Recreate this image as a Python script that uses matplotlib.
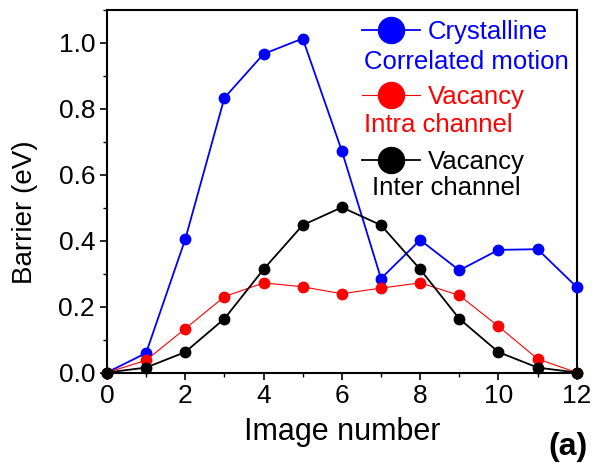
import numpy as np
import matplotlib.pyplot as plt
from matplotlib.ticker import MultipleLocator

plt.rcParams['font.family'] = ['Liberation Sans', 'DejaVu Sans']

# image numbers along the NEB path
images = np.arange(0, 13)

# barrier values (eV)
crystalline = [0.0, 0.059, 0.404, 0.833, 0.966, 1.013, 0.672, 0.285, 0.402, 0.310, 0.372, 0.374, 0.259]
vac_intra = [0.0, 0.037, 0.133, 0.230, 0.272, 0.260, 0.239, 0.256, 0.272, 0.234, 0.140, 0.041, 0.0]
vac_inter = [0.0, 0.015, 0.062, 0.163, 0.313, 0.447, 0.501, 0.447, 0.313, 0.163, 0.062, 0.015, 0.0]

fig = plt.figure(figsize=(5.94, 4.68), dpi=100)
ax = fig.add_axes([0.180, 0.204, 0.791, 0.775])

l1, = ax.plot(images, crystalline, '-o', color='#0000ff', lw=1.3, ms=7.5, clip_on=False, zorder=3)
l2, = ax.plot(images, vac_intra, '-o', color='#ff0000', lw=0.8, ms=7.5, clip_on=False, zorder=3)
l3, = ax.plot(images, vac_inter, '-o', color='black', lw=1.3, ms=7.5, clip_on=False, zorder=3)

ax.set_xlim(0, 12)
ax.set_ylim(0, 1.1)
ax.xaxis.set_major_locator(MultipleLocator(2))
ax.xaxis.set_minor_locator(MultipleLocator(1))
ax.yaxis.set_major_locator(MultipleLocator(0.2))
ax.yaxis.set_minor_locator(MultipleLocator(0.1))
ax.yaxis.set_major_formatter(plt.FormatStrFormatter('%.1f'))
ax.tick_params(which='major', direction='out', length=5, width=1.2, labelsize=19, pad=3.5)
ax.tick_params(which='minor', direction='out', length=3, width=1.0)
for s in ax.spines.values():
    s.set_linewidth(1.5)

ax.set_xlabel('Image number', fontsize=22)
ax.set_ylabel('Barrier (eV)', fontsize=20)
ax.xaxis.set_label_coords(0.5, -0.163)
ax.xaxis.label.set_va('center')
ax.yaxis.set_label_coords(-0.174, 0.443)
ax.yaxis.label.set_va('center')

# legend: three handles, second lines added as text
leg = ax.legend([l1, l2, l3], ['Crystalline', 'Vacancy', 'Vacancy'],
                loc='upper left', bbox_to_anchor=(362 / 594, 1 - 20 / 468),
                bbox_transform=fig.transFigure, frameon=False, borderpad=0,
                borderaxespad=0, fontsize=18.5, markerscale=2.5, handlelength=2.25,
                handletextpad=0.3, labelspacing=1.6, labelcolor='linecolor')

fig.text(364 / 594, 1 - 62 / 468, 'Correlated motion', color='#0000ff', fontsize=18.5, va='center')
fig.text(364 / 594, 1 - 125 / 468, 'Intra channel', color='#ff0000', fontsize=18.5, va='center')
fig.text(372 / 594, 1 - 188 / 468, 'Inter channel', color='black', fontsize=18.5, va='center')

fig.text(588 / 594, 1 - 447 / 468, '(a)', fontsize=23, fontweight='bold', ha='right', va='center')

fig.savefig('out.png', dpi=100)
